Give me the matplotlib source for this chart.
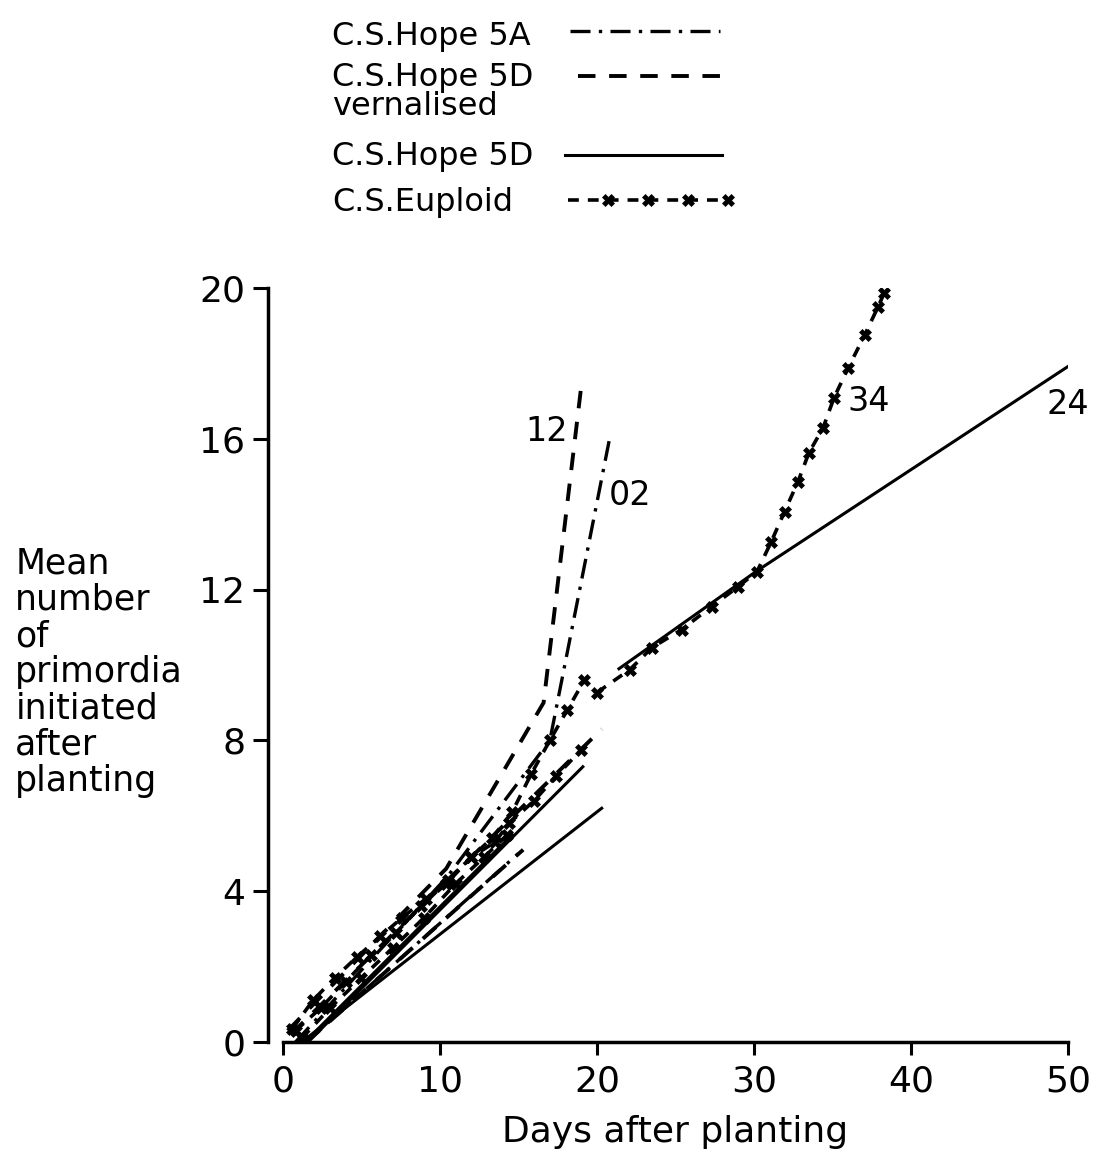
"""
Primordia initiated after planting - C.S. Hope substitution lines vs. Euploid
"""

import matplotlib
matplotlib.use("Agg")
import matplotlib.pyplot as plt
from matplotlib.lines import Line2D

# ---- data ----
# C.S.Hope 5A  (dash-dot)
hope5a_02_x = [0.8, 10.5, 17.0, 20.8]
hope5a_02_y = [0.0, 4.4, 8.0, 16.0]
hope5a_b_x = [1.5, 15.0]
hope5a_b_y = [0.0, 5.0]

# C.S.Hope 5D vernalised  (dashed)
vern_12_x = [0.3, 10.4, 16.6, 19.0]
vern_12_y = [0.3, 4.6, 9.0, 17.4]
vern_b_x = [0.5, 20.3]
vern_b_y = [0.2, 8.3]
vern_c_x = [1.5, 15.3]
vern_c_y = [0.0, 5.1]

# C.S.Hope 5D  (solid)
hope5d_a_x = [1.2, 20.3]
hope5d_a_y = [0.0, 6.2]
hope5d_b_x = [1.6, 19.1]
hope5d_b_y = [0.0, 7.3]
hope5d_c_x = [1.4, 14.6]
hope5d_c_y = [0.0, 5.5]
hope5d_24_x = [21.4, 30.2, 50.3]
hope5d_24_y = [9.9, 12.5, 18.0]

# C.S.Euploid  (dashed with crosses)
eup_a_x = [0.6, 1.9, 3.3, 4.7, 6.2, 7.6, 9.1, 10.5, 12.0, 13.3, 14.6, 15.8, 17.0, 18.1, 19.2]
eup_a_y = [0.35, 1.1, 1.7, 2.25, 2.8, 3.3, 3.8, 4.3, 4.9, 5.4, 6.1, 7.1, 8.0, 8.8, 9.6]
eup_b_x = [0.8, 2.4, 4.0, 5.6, 7.2, 8.8, 10.4, 12.0, 13.5, 14.4, 16.0, 17.4, 19.0]
eup_b_y = [0.3, 0.9, 1.6, 2.3, 2.9, 3.6, 4.2, 4.9, 5.3, 5.8, 6.4, 7.05, 7.75]
eup_c_x = [1.2, 3.0, 5.0, 7.0, 9.0, 11.0, 12.8, 14.3]
eup_c_y = [0.1, 0.9, 1.7, 2.5, 3.3, 4.2, 4.9, 5.5]
eup_34_x = [20.0, 22.1, 23.5, 25.4, 27.3, 29.0, 30.2, 31.1, 31.95, 32.8,
            33.5, 34.4, 35.1, 36.0, 37.05, 37.9, 38.3]
eup_34_y = [9.27, 9.88, 10.46, 10.94, 11.55, 12.08, 12.48, 13.27, 14.07, 14.86,
            15.63, 16.29, 17.09, 17.88, 18.75, 19.5, 19.87]

# curve labels
curve_labels = ["12", "02", "34", "24"]
curve_label_x = [16.8, 22.1, 37.3, 50.0]
curve_label_y = [16.2, 14.5, 17.0, 16.9]

x_ticks = [0, 10, 20, 30, 40, 50]
y_ticks = [0, 4, 8, 12, 16, 20]

legend_labels = ["C.S.Hope 5A", "C.S.Hope 5D\nvernalised", "C.S.Hope 5D", "C.S.Euploid"]

# ---- styles ----
plt.rcParams['font.family'] = ['DejaVu Sans']
BLACK = 'black'
DASHDOT = dict(color=BLACK, lw=2.4, dashes=(6, 2.5, 1, 2.5))
DASHED = dict(color=BLACK, lw=2.8, dashes=(4.5, 3.5))
SOLID = dict(color=BLACK, lw=2.2, linestyle='-')
EUPLOID = dict(color=BLACK, lw=2.6, dashes=(3, 2.5), marker='X', markersize=8.5,
               markeredgewidth=0.5)
legend_styles = [DASHDOT, DASHED, SOLID, EUPLOID]

fig = plt.figure(figsize=(10.93, 11.53), dpi=100)
ax = fig.add_axes([0.2589, 0.0963, 0.7182, 0.6539])

ax.plot(hope5a_02_x, hope5a_02_y, **DASHDOT)
ax.plot(hope5a_b_x, hope5a_b_y, **DASHDOT)

ax.plot(vern_12_x, vern_12_y, **DASHED)
ax.plot(vern_b_x, vern_b_y, **DASHED)
ax.plot(vern_c_x, vern_c_y, **DASHED)

ax.plot(hope5d_a_x, hope5d_a_y, **SOLID)
ax.plot(hope5d_b_x, hope5d_b_y, **SOLID)
ax.plot(hope5d_c_x, hope5d_c_y, **SOLID)
ax.plot(hope5d_24_x, hope5d_24_y, **SOLID)

ax.plot(eup_a_x, eup_a_y, **EUPLOID)
ax.plot(eup_b_x, eup_b_y, **EUPLOID)
ax.plot(eup_c_x, eup_c_y, **EUPLOID)
ax.plot(eup_34_x, eup_34_y, **EUPLOID)

for lab, lx, ly in zip(curve_labels, curve_label_x, curve_label_y):
    ax.text(lx, ly, lab, fontsize=24, ha='center', va='center')

# axes
ax.set_xlim(0, 50)
ax.set_ylim(0, 20)
ax.set_xticks(x_ticks)
ax.set_yticks(y_ticks)
ax.spines['top'].set_visible(False)
ax.spines['right'].set_visible(False)
ax.spines['left'].set_position(('outward', 11))
ax.spines['left'].set_linewidth(2.5)
ax.spines['bottom'].set_linewidth(2.5)
ax.tick_params(axis='y', length=11, width=2.2, pad=5, labelsize=26)
ax.tick_params(axis='x', length=9, width=2.2, pad=7, labelsize=26)
ax.set_xlabel('Days after planting', fontsize=26, labelpad=12)

fig.text(0.014, 0.417, "Mean\nnumber\nof\nprimordia\ninitiated\nafter\nplanting",
         fontsize=25, ha='left', va='center', linespacing=1.08)

# legend block: label on the left, sample line on the right
# (positions in figure pixels, top-down)
leg_text_y = [37, 92, 157, 202]
leg_line_y = [31, 76, 155, 200]
leg_line_x0 = [570, 578, 565, 568]
leg_line_x1 = [720, 722, 722, 728]
W, H = 1093.0, 1153.0
for lab, ty, ly, x0, x1, st in zip(legend_labels, leg_text_y, leg_line_y,
                                   leg_line_x0, leg_line_x1, legend_styles):
    fig.text(332 / W, 1 - ty / H, lab, fontsize=23, ha='left', va='center',
             linespacing=0.95)
    style = dict(st)
    if 'marker' in style:
        style['markevery'] = [1, 2, 3, 4]
        xs = [x0 / W + (x1 - x0) / W * k / 4 for k in range(5)]
    else:
        xs = [x0 / W, x1 / W]
    fig.add_artist(Line2D(xs, [1 - ly / H] * len(xs), transform=fig.transFigure, **style))

fig.savefig('out.png', dpi=100)
